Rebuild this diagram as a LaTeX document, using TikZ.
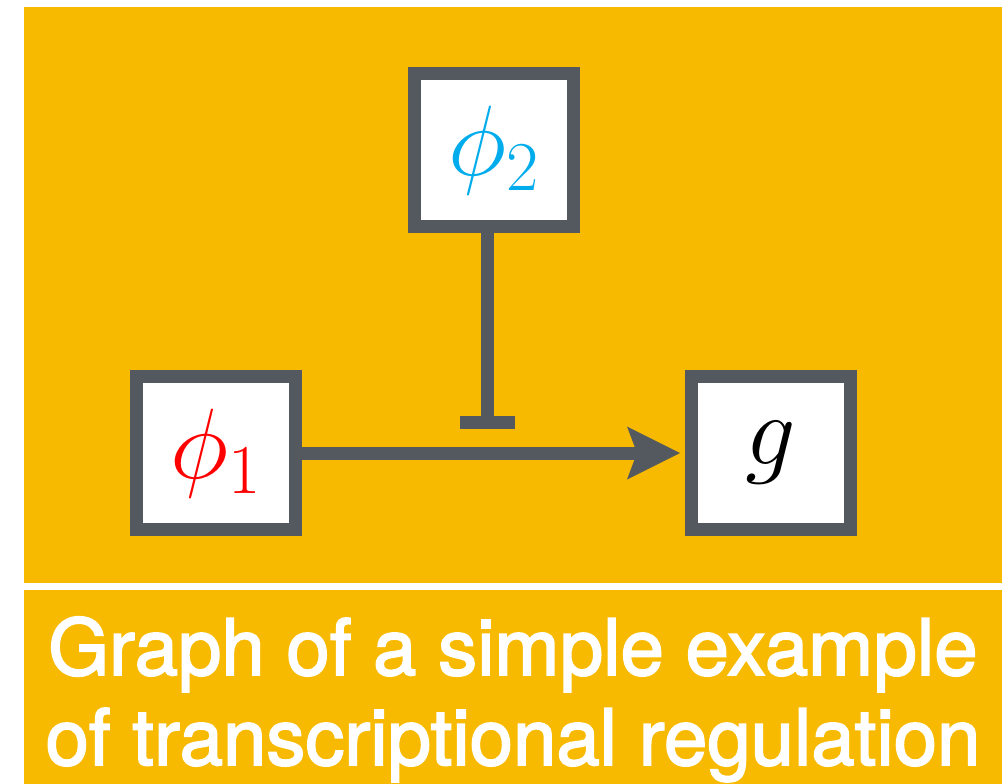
\RequirePackage{fix-cm}
\documentclass[tikz,border=0pt]{standalone}
\usepackage{fontspec}
\usepackage{xcolor}
\usepackage{tikz}
\usetikzlibrary{arrows.meta}
\newfontfamily\capfont[FakeBold=2.2]{TeX Gyre Heros}
\definecolor{panelgold}{RGB}{248,186,0}
\definecolor{edgegray}{RGB}{84,88,95}
\definecolor{regcyan}{RGB}{0,172,236}
\definecolor{regred}{RGB}{255,0,0}

\tikzset{
    genebox/.style={draw=edgegray, fill=white, line width=13pt, minimum width=159pt,
        minimum height=153pt, inner sep=0pt, font=\fontsize{100}{100}\selectfont},
    activ/.style={draw=edgegray, line width=13pt, shorten >=5pt,
        -{Stealth[length=53pt, width=53pt, inset=10pt, line width=0pt]}},
    inhib/.style={draw=edgegray, line width=13pt, -{Bar[width=55pt]}},
    captext/.style={text=white, anchor=base, inner sep=0pt,
        font=\capfont\fontsize{78}{90}\selectfont},
}

\begin{document}
\begin{tikzpicture}[x=1pt, y=-1pt]
    \useasboundingbox (0,0) rectangle (1002,784);
    % Panels
    \fill[panelgold] (23.5,7) rectangle (1002,583);
    \fill[panelgold] (23.5,590) rectangle (1002,784);
    % Genes and regulators
    \node[genebox] (phione) at (216,453) {$\color{regred}\phi_1$};
    \node[genebox] (phitwo) at (494,150) {$\color{regcyan}\phi_2$};
    \node[genebox] (gene) at (771,453) {$g$};
    % Activation and repression
    \draw[activ] (phione) -- (gene);
    \coordinate (block) at (487,429);
    \draw[inhib] (phitwo.south -| block) -- (block);
    % Caption
    \node[captext] (capone) at (513,675) {Graph of a simple example};
    \node[captext] (captwo) at (513,765) {of transcriptional regulation};
\end{tikzpicture}
\end{document}
